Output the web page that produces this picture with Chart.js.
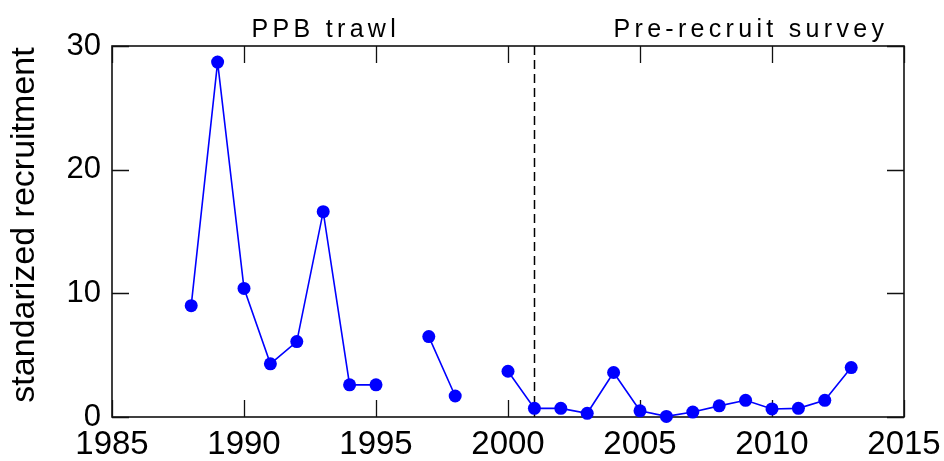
<!DOCTYPE html>
<html>
<head>
<meta charset="utf-8">
<script src="https://cdn.jsdelivr.net/npm/chart.js@4"></script>
<style>
  html, body { margin: 0; padding: 0; background: #fff; }
  #wrap { width: 944px; height: 461px; }
</style>
</head>
<body>
<div id="wrap"><canvas id="c" width="944" height="461"></canvas></div>
<script>
// Recruitment index by year (null = no survey that year)
const years = [1988, 1989, 1990, 1991, 1992, 1993, 1994, 1995, 1996, 1997, 1998, 1999, 2000,
               2001, 2002, 2003, 2004, 2005, 2006, 2007, 2008, 2009, 2010, 2011, 2012, 2013];
const recruitment = [9.0, 28.7, 10.4, 4.3, 6.1, 16.6, 2.6, 2.6, null, 6.5, 1.7, null, 3.7,
                     0.7, 0.7, 0.3, 3.6, 0.5, 0.05, 0.4, 0.9, 1.35, 0.65, 0.7, 1.35, 4.0];
const xTicks = [1985, 1990, 1995, 2000, 2005, 2010, 2015];
const yTicks = [0, 10, 20, 30];
const surveyChangeYear = 2001;
const sectionLabels = [
  { text: 'PPB trawl', year: 1993.1 },
  { text: 'Pre-recruit survey', year: 2009.2 }
];
const yTitle = 'standarized recruitment';

const FONT = "Arial, 'Liberation Sans', sans-serif";

const framePlugin = {
  id: 'frame',
  beforeDatasetsDraw(chart) {
    const { ctx, chartArea: a, scales } = chart;
    const xs = scales.x, ys = scales.y;
    ctx.save();
    // inward tick marks on all four sides
    ctx.strokeStyle = '#111';
    ctx.lineWidth = 1.3;
    const tl = 17;
    ctx.beginPath();
    xTicks.forEach(v => {
      const px = Math.round(xs.getPixelForValue(v)) + 0.5;
      ctx.moveTo(px, a.bottom); ctx.lineTo(px, a.bottom - tl);
      ctx.moveTo(px, a.top); ctx.lineTo(px, a.top + tl);
    });
    yTicks.forEach(v => {
      const py = Math.round(ys.getPixelForValue(v)) + 0.5;
      ctx.moveTo(a.left, py); ctx.lineTo(a.left + tl, py);
      ctx.moveTo(a.right, py); ctx.lineTo(a.right - tl, py);
    });
    ctx.stroke();
    // dashed separator between the two survey periods
    const dx = Math.round(xs.getPixelForValue(surveyChangeYear)) + 0.5;
    ctx.setLineDash([9, 5]);
    ctx.lineWidth = 1.5;
    ctx.strokeStyle = '#000';
    ctx.beginPath();
    ctx.moveTo(dx, a.top); ctx.lineTo(dx, a.bottom);
    ctx.stroke();
    ctx.setLineDash([]);
    // box
    ctx.lineWidth = 1.6;
    ctx.strokeStyle = '#111';
    ctx.strokeRect(a.left, a.top, a.right - a.left, a.bottom - a.top);
    ctx.restore();
  },
  afterDraw(chart) {
    const { ctx, chartArea: a, scales } = chart;
    ctx.save();
    ctx.fillStyle = '#000';
    ctx.font = '25px ' + FONT;
    ctx.letterSpacing = '4.3px';
    ctx.textAlign = 'center';
    ctx.textBaseline = 'alphabetic';
    sectionLabels.forEach(l => {
      ctx.fillText(l.text, scales.x.getPixelForValue(l.year), a.top - 9);
    });
    ctx.letterSpacing = '0px';
    ctx.font = '34px ' + FONT;
    ctx.translate(34, 225);
    ctx.rotate(-Math.PI / 2);
    ctx.fillText(yTitle, 0, 0);
    ctx.restore();
  }
};

new Chart(document.getElementById('c'), {
  type: 'line',
  data: {
    datasets: [{
      data: years.map((yr, i) => ({ x: yr, y: recruitment[i] })),
      borderColor: '#0000ff',
      backgroundColor: '#0000ff',
      borderWidth: 1.6,
      pointRadius: 6.5,
      pointBorderWidth: 0,
      pointBackgroundColor: '#0000ff',
      spanGaps: false,
      tension: 0,
      clip: false
    }]
  },
  options: {
    responsive: false,
    animation: false,
    devicePixelRatio: 1,
    layout: { padding: { top: 46, right: 40, left: 0, bottom: 0 } },
    plugins: { legend: { display: false }, tooltip: { enabled: false } },
    scales: {
      x: {
        type: 'linear',
        min: 1985, max: 2015,
        afterBuildTicks(s) { s.ticks = xTicks.map(v => ({ value: v })); },
        afterFit(s) { s.height = 44; s.paddingLeft = 0; s.paddingRight = 0; },
        grid: { display: false, drawTicks: false },
        border: { display: false },
        ticks: {
          autoSkip: false, maxRotation: 0, padding: 8,
          color: '#000',
          font: { size: 33, family: FONT },
          callback: v => String(v)
        }
      },
      y: {
        min: 0, max: 30,
        afterBuildTicks(s) { s.ticks = yTicks.map(v => ({ value: v })); },
        afterFit(s) { s.width = 112; s.paddingTop = 0; s.paddingBottom = 0; },
        grid: { display: false, drawTicks: false },
        border: { display: false },
        ticks: {
          padding: 11,
          color: '#000',
          font: { size: 31, family: FONT },
          callback: v => String(v)
        }
      }
    }
  },
  plugins: [framePlugin]
});
</script>
</body>
</html>
